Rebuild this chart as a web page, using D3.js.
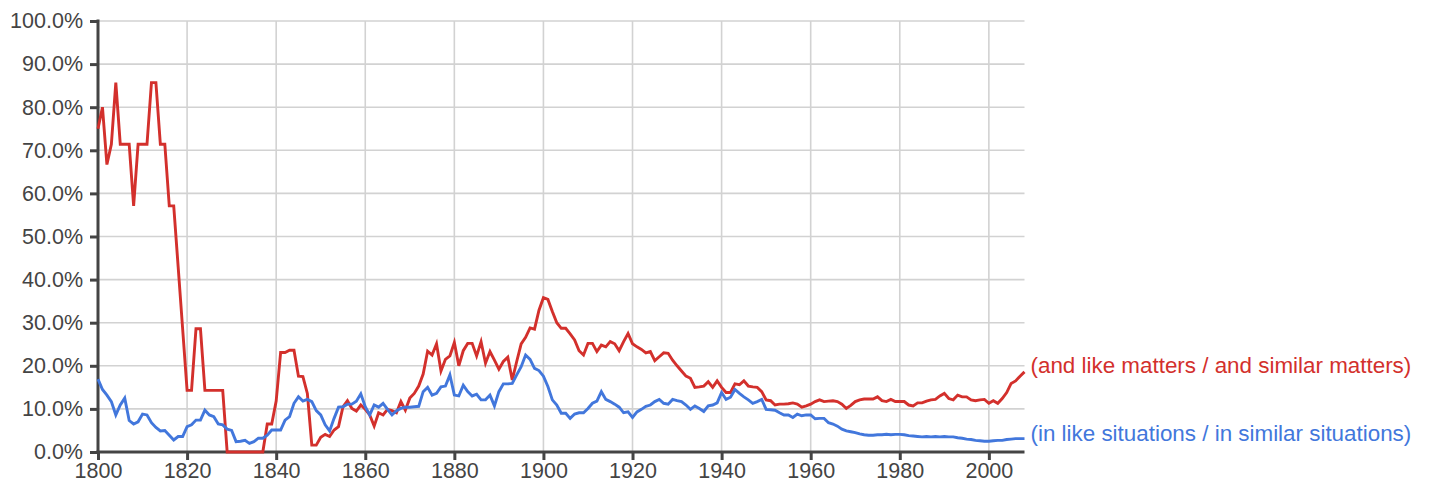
<!DOCTYPE html>
<html><head><meta charset="utf-8">
<script src="https://cdn.jsdelivr.net/npm/d3@7"></script>
<style>
html,body{margin:0;padding:0;background:#fff;}
svg text{font-family:Arial,"Liberation Sans",sans-serif;}
</style></head>
<body><svg id="c" width="1430" height="490"></svg>
<script>
const startYear = 1800, endYear = 2008;
const xTicks = [1800,1820,1840,1860,1880,1900,1920,1940,1960,1980,2000];
const yTicks = [0,10,20,30,40,50,60,70,80,90,100];
const seriesNames = ["(and like matters / and similar matters)", "(in like situations / in similar situations)"];
const seriesColors = ["#d3302c", "#4277dc"];

const andLikeMatters = [
 75.0,80.0,66.7,71.4,85.7,71.4,71.4,71.4,57.1,71.4,
 71.4,71.4,85.7,85.7,71.4,71.4,57.1,57.1,42.9,28.6,
 14.3,14.3,28.6,28.6,14.3,14.3,14.3,14.3,14.3,0,
 0,0,0,0,0,0,0,0,6.5,6.5,
 11.8,23.1,23.1,23.6,23.6,17.6,17.5,13.6,1.6,1.6,
 3.4,4.1,3.6,5.1,5.9,10.5,11.9,10.1,9.5,10.9,
 9.9,8.6,6.0,9.1,8.6,9.9,9.6,9.1,11.7,9.7,
 12.5,13.6,15.3,18.1,23.4,22.5,25.1,18.8,21.5,22.3,
 25.4,20.0,23.5,25.2,25.2,22.3,25.6,20.6,23.3,21.3,
 19.2,21.0,22.0,16.7,21.0,25.1,26.6,28.8,28.5,32.9,
 35.8,35.4,32.6,30.0,28.7,28.7,27.4,26.0,23.5,22.5,
 25.2,25.2,23.3,24.8,24.4,25.6,25.1,23.5,25.6,27.5,
 25.1,24.4,23.8,23.0,23.3,21.2,22.1,23.0,22.9,21.3,
 20.0,18.8,17.6,17.1,15.0,15.1,15.3,16.3,15.0,16.5,
 15.0,13.8,13.8,15.8,15.6,16.5,15.3,15.1,15.0,14.0,
 12.1,11.9,10.9,11.1,11.1,11.2,11.4,11.1,10.4,10.7,
 11.1,11.7,12.1,11.7,11.8,11.9,11.7,11.1,10.1,10.8,
 11.7,12.1,12.3,12.3,12.3,12.8,11.9,11.7,12.2,11.7,
 11.7,11.7,10.9,10.7,11.4,11.4,11.8,12.1,12.2,13.0,
 13.6,12.4,12.1,13.2,12.8,12.8,12.1,11.9,12.1,12.2,
 11.3,11.9,11.3,12.4,13.8,15.9,16.5,17.6,18.6
];
const inLikeSituations = [
 16.9,14.5,13.2,11.7,8.6,10.9,12.5,7.3,6.5,7.0,
 8.8,8.6,6.8,5.7,4.9,5.0,3.9,2.8,3.6,3.6,
 5.9,6.3,7.4,7.4,9.7,8.6,8.2,6.5,6.3,5.3,
 5.0,2.4,2.5,2.7,2.0,2.4,3.2,3.2,3.9,5.1,
 5.1,5.1,7.4,8.2,11.3,12.8,11.8,12.2,11.7,9.6,
 8.6,6.3,4.9,7.8,10.4,10.5,11.1,11.1,11.8,13.5,
 10.5,8.6,10.9,10.4,11.3,9.9,8.6,9.6,10.1,10.4,
 10.4,10.5,10.6,14.0,15.0,13.2,13.6,15.1,15.3,17.9,
 13.2,13.0,15.5,14.0,13.0,13.4,12.1,12.1,13.2,10.7,
 14.0,15.8,15.8,15.9,17.9,19.8,22.5,21.5,19.4,18.9,
 17.6,15.2,12.1,10.9,9.0,9.0,7.8,8.8,9.1,9.1,
 10.1,11.3,11.8,14.0,12.2,11.7,11.1,10.4,9.1,9.3,
 8.0,9.3,9.9,10.6,10.9,11.7,12.2,11.3,11.1,12.2,
 11.9,11.7,10.9,9.9,10.7,10.1,9.4,10.7,10.9,11.4,
 13.8,12.2,12.7,14.5,13.6,12.8,12.1,11.3,11.7,12.2,
 9.9,9.8,9.7,9.1,8.6,8.6,8.0,8.8,8.4,8.6,
 8.6,7.7,7.8,7.8,6.8,6.5,6.0,5.3,4.9,4.7,
 4.5,4.2,4.0,3.9,3.9,4.0,4.0,4.1,4.0,4.1,
 4.1,4.0,3.8,3.7,3.6,3.5,3.6,3.5,3.6,3.5,
 3.6,3.5,3.5,3.3,3.2,3.0,2.9,2.7,2.6,2.5,
 2.5,2.6,2.7,2.7,2.9,3.0,3.1,3.1,3.1
];
const years = d3.range(startYear, endYear + 1);
const allSeries = [andLikeMatters, inLikeSituations];

const svg = d3.select("#c");
const L = 98, R = 1024.5, T = 21, B = 452;
const x = d3.scaleLinear().domain([startYear, endYear]).range([L, R]);
const y = d3.scaleLinear().domain([0, 100]).range([B, T]);

// horizontal gridlines
svg.append("g").selectAll("line").data(yTicks.filter(d => d > 0)).join("line")
  .attr("x1", L).attr("x2", R).attr("y1", d => y(d)).attr("y2", d => y(d))
  .attr("stroke", "#d2d2d2").attr("stroke-width", 1.6);
// vertical gridlines
svg.append("g").selectAll("line").data(xTicks.filter(d => d > startYear)).join("line")
  .attr("x1", d => x(d)).attr("x2", d => x(d)).attr("y1", T).attr("y2", B)
  .attr("stroke", "#d2d2d2").attr("stroke-width", 1.6);

// y axis
const yAxis = d3.axisLeft(y).tickValues(yTicks).tickFormat(d => d.toFixed(1) + "%").tickSize(8).tickPadding(7);
const gy = svg.append("g").attr("transform", `translate(${L},0)`).call(yAxis);
gy.select(".domain").remove();
gy.selectAll(".tick line").attr("stroke", "#444").attr("stroke-width", 3);
gy.selectAll(".tick text").attr("font-size", 21.5).attr("fill", "#444").attr("font-family", "Arial, 'Liberation Sans', sans-serif");

// x axis
const xAxis = d3.axisBottom(x).tickValues(xTicks).tickFormat(d3.format("d")).tickSize(8).tickPadding(3);
const gx = svg.append("g").attr("transform", `translate(0,${B})`).call(xAxis);
gx.select(".domain").remove();
gx.selectAll(".tick line").attr("stroke", "#444").attr("stroke-width", 3);
gx.selectAll(".tick text").attr("font-size", 21.5).attr("fill", "#444").attr("font-family", "Arial, 'Liberation Sans', sans-serif");

// axis lines
svg.append("line").attr("x1", L).attr("x2", L).attr("y1", T - 1.5).attr("y2", B + 1.5).attr("stroke", "#444").attr("stroke-width", 3);
svg.append("line").attr("x1", L - 1.5).attr("x2", R).attr("y1", B).attr("y2", B).attr("stroke", "#444").attr("stroke-width", 3);

// lines
const line = d3.line().x((d, i) => x(years[i])).y(d => y(d));
allSeries.forEach((s, k) => {
  svg.append("path").datum(s).attr("d", line).attr("fill", "none")
    .attr("stroke", seriesColors[k]).attr("stroke-width", 2.9).attr("stroke-linejoin", "miter");
});

// labels at line ends
const labelOffsets = [-5, -4];
allSeries.forEach((s, k) => {
  svg.append("text").attr("x", R + 6).attr("y", y(s[s.length - 1]) + labelOffsets[k])
    .attr("dominant-baseline", "middle").attr("font-size", 22.4)
    .attr("fill", seriesColors[k]).text(seriesNames[k]);
});
</script></body></html>
